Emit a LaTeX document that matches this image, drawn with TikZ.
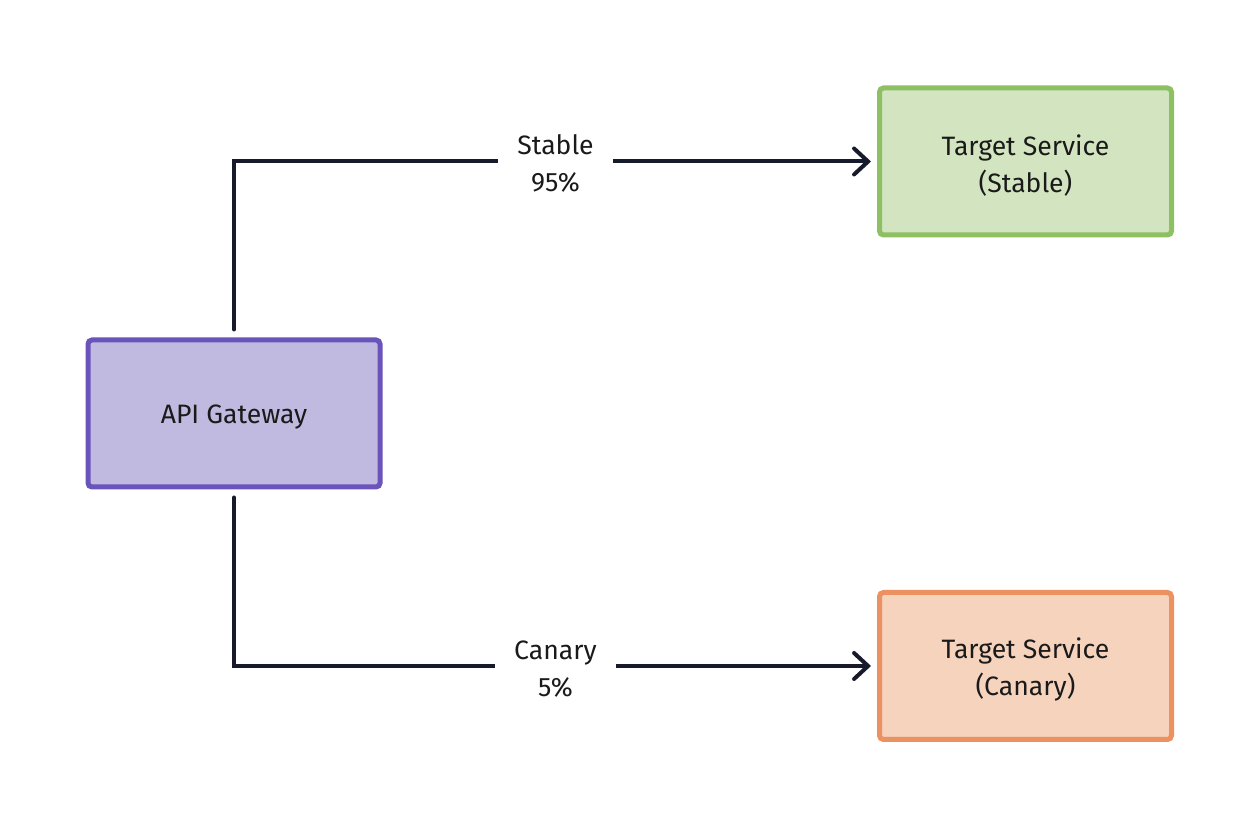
\documentclass[tikz,border=0pt]{standalone}
\usepackage{fontspec}
\setmainfont{Fira Sans}
\usetikzlibrary{arrows.meta,shadows}
\definecolor{ink}{HTML}{161A2A}
\definecolor{txt}{HTML}{1A1A1A}
\definecolor{gwfill}{HTML}{C0B9E0}
\definecolor{gwline}{HTML}{6A53BB}
\definecolor{stfill}{HTML}{D3E5C0}
\definecolor{stline}{HTML}{8CC063}
\definecolor{cnfill}{HTML}{F5D3BD}
\definecolor{cnline}{HTML}{EC9160}
\newcommand{\topstrut}[1]{\rule{0pt}{#1}}
\tikzset{
  box/.style={rectangle, rounded corners=2pt, line width=2.5pt,
    minimum width=146pt, minimum height=73.5pt, align=center,
    text=txt, font=\fontsize{13.3}{18.5}\selectfont,
    drop shadow={opacity=0.12, shadow xshift=0pt, shadow yshift=-1pt}},
  conn/.style={draw=ink, line width=2pt, line cap=round,
    shorten <=4pt, shorten >=3pt},
  arr/.style={-{Straight Barb[length=7pt, width=13pt, line cap=round]}},
  lab/.style={fill=white, inner xsep=9.5pt, inner ysep=2pt, align=center,
    text=txt, font=\fontsize{13.3}{18.5}\selectfont}
}
\begin{document}
\begin{tikzpicture}[x=0.5pt, y=-0.5pt]
\useasboundingbox (0,0) rectangle (1260,828);
\node[box, fill=gwfill, draw=gwline] (gw) at (234,413.5) {\topstrut{13pt}API Gateway};
\node[box, fill=stfill, draw=stline] (st) at (1025.5,161.5) {\topstrut{14pt}Target Service\\(Stable)};
\node[box, fill=cnfill, draw=cnline] (cn) at (1025.5,666) {\topstrut{14pt}Target Service\\(Canary)};
\coordinate (c1) at (234,161.5);
\coordinate (c2) at (234,666);
\draw[conn, arr] (gw.north) -- (c1) -- node[lab, pos=0.5] (l1) {\topstrut{12pt}Stable\\95\%} (st.west);
\draw[conn, arr] (gw.south) -- (c2) -- node[lab, pos=0.5] (l2) {\topstrut{12pt}Canary\\5\%} (cn.west);
\end{tikzpicture}
\end{document}
